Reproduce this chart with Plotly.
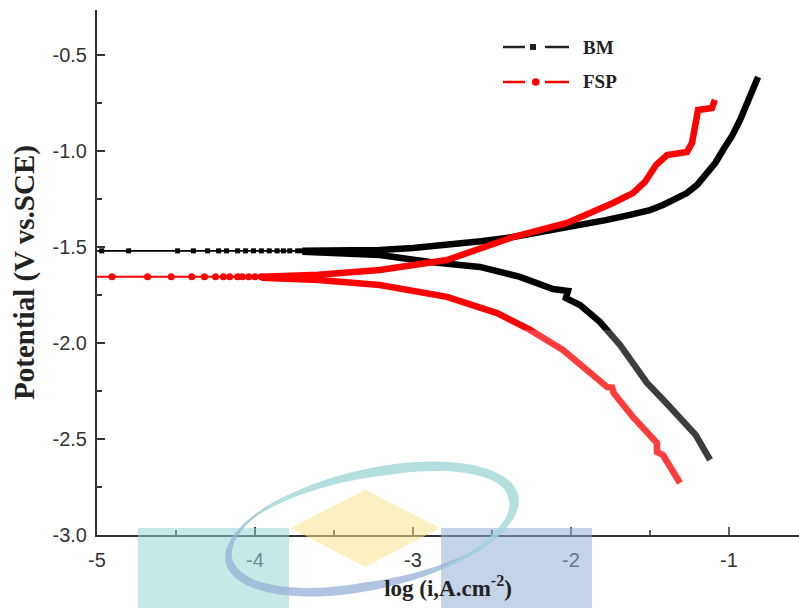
import numpy as np
import plotly.graph_objects as go

# ---------------- data ----------------
# BM: points near the corrosion potential (sparse markers)
bm_flat_x = [-5.05, -4.97, -4.80, -4.49, -4.39, -4.30, -4.23, -4.18, -4.11, -4.06, -4.01,
             -3.96, -3.91, -3.86, -3.82, -3.78, -3.73, -3.70]
bm_flat_y = [-1.52] * len(bm_flat_x)
# BM anodic branch
bm_an_x = [-3.70, -3.45, -3.21, -3.00, -2.785, -2.57, -2.367, -2.15, -1.943, -1.78, -1.627,
           -1.50, -1.418, -1.34, -1.266, -1.20, -1.139, -1.085, -1.038, -0.98, -0.930,
           -0.867, -0.816]
bm_an_y = [-1.52, -1.518, -1.515, -1.505, -1.490, -1.470, -1.448, -1.418, -1.385, -1.360, -1.333,
           -1.308, -1.281, -1.252, -1.219, -1.175, -1.115, -1.060, -0.995, -0.920, -0.839,
           -0.719, -0.615]
# BM cathodic branch
bm_ca_x = [-3.70, -3.45, -3.21, -2.892, -2.576, -2.323, -2.20, -2.114, -2.019, -2.032,
           -1.943, -1.816, -1.690, -1.519, -1.40, -1.310, -1.21, -1.120]
bm_ca_y = [-1.525, -1.53, -1.542, -1.578, -1.604, -1.656, -1.690, -1.719, -1.729, -1.766,
           -1.802, -1.891, -2.010, -2.208, -2.310, -2.385, -2.480, -2.609]

# FSP: points near the corrosion potential (sparse markers)
fsp_flat_x = [-5.05, -4.905, -4.68, -4.53, -4.40, -4.32, -4.25, -4.20, -4.16, -4.11, -4.08,
              -4.04, -4.00, -3.96]
fsp_flat_y = [-1.655] * len(fsp_flat_x)
# FSP anodic branch
fsp_an_x = [-3.96, -3.60, -3.21, -2.785, -2.367, -2.025, -1.734, -1.608, -1.532, -1.462,
            -1.392, -1.266, -1.234, -1.215, -1.196, -1.108, -1.089]
fsp_an_y = [-1.655, -1.645, -1.620, -1.568, -1.448, -1.375, -1.271, -1.219, -1.161, -1.073,
            -1.021, -1.005, -0.958, -0.854, -0.786, -0.776, -0.734]
# FSP cathodic branch
fsp_ca_x = [-3.96, -3.60, -3.21, -2.785, -2.468, -2.259, -2.051, -1.835, -1.770, -1.740,
            -1.730, -1.608, -1.456, -1.456, -1.418, -1.310]
fsp_ca_y = [-1.660, -1.672, -1.698, -1.760, -1.844, -1.932, -2.036, -2.177, -2.230, -2.232,
            -2.260, -2.385, -2.521, -2.568, -2.583, -2.729]

x_ticks = [-5, -4, -3, -2, -1]
y_ticks = [-3.0, -2.5, -2.0, -1.5, -1.0, -0.5]
series_names = ["BM", "FSP"]

BM_COLOR = "#000000"
FSP_COLOR = "#ff0000"

fig = go.Figure()

# thick branches (dense data points merge into a thick line)
for xs, ys, col in [(bm_an_x, bm_an_y, BM_COLOR), (bm_ca_x, bm_ca_y, BM_COLOR),
                    (fsp_an_x, fsp_an_y, FSP_COLOR), (fsp_ca_x, fsp_ca_y, FSP_COLOR)]:
    fig.add_trace(go.Scatter(x=xs, y=ys, mode="lines", showlegend=False,
                             line=dict(color=col, width=6.5), hoverinfo="skip"))

# sparse points near E_corr
fig.add_trace(go.Scatter(x=bm_flat_x, y=bm_flat_y, mode="lines+markers", name=series_names[0],
                         showlegend=False,
                         line=dict(color=BM_COLOR, width=1.8),
                         marker=dict(symbol="square", size=5, color=BM_COLOR)))
fig.add_trace(go.Scatter(x=fsp_flat_x, y=fsp_flat_y, mode="lines+markers", name=series_names[1],
                         showlegend=False,
                         line=dict(color=FSP_COLOR, width=1.8),
                         marker=dict(symbol="circle", size=7, color=FSP_COLOR)))

# ---------------- pixel helpers ----------------
L, T, W, H = 97, 10, 702, 525
def px(X):
    return (X - L) / W
def py(Y):
    return (T + H - Y) / H

shapes = []
annotations = []

# faint whitening of the lower part of the picture (as in the scanned original)
shapes.append(dict(type="rect", xref="x", yref="paper", layer="above",
                   x0=-2.6, x1=-0.9, y0=0, y1=py(330),
                   fillcolor="rgba(255,255,255,0.24)", line=dict(width=0)))

# ---------------- legend (line - marker - line) ----------------
for name, col, Y, sym in [(series_names[0], "#222222", 47, "square"),
                          (series_names[1], FSP_COLOR, 82, "circle")]:
    for a0, a1 in [(503, 525), (545, 569)]:
        shapes.append(dict(type="line", xref="paper", yref="paper",
                           x0=px(a0), x1=px(a1), y0=py(Y), y1=py(Y),
                           line=dict(color=col, width=2.5)))
    if sym == "square":
        shapes.append(dict(type="rect", xref="paper", yref="paper",
                           x0=px(530), x1=px(536), y0=py(Y + 3), y1=py(Y - 3),
                           fillcolor=col, line=dict(width=0)))
    else:
        shapes.append(dict(type="circle", xref="paper", yref="paper",
                           x0=px(532), x1=px(539.5), y0=py(Y + 3.75), y1=py(Y - 3.75),
                           fillcolor=col, line=dict(width=0)))
    annotations.append(dict(xref="paper", yref="paper", x=px(581), y=py(Y),
                            xanchor="left", yanchor="middle", showarrow=False, text=name,
                            font=dict(family="Liberation Serif, Times New Roman", size=19,
                                      color="#222222", weight="bold")))

# ---------------- watermark decoration (below plot) ----------------
shapes.append(dict(type="rect", xref="paper", yref="paper", layer="above",
                   x0=px(138), x1=px(289), y0=py(608), y1=py(528),
                   fillcolor="rgba(150,215,210,0.55)", line=dict(width=0)))
shapes.append(dict(type="rect", xref="paper", yref="paper", layer="above",
                   x0=px(441), x1=px(592), y0=py(608), y1=py(528),
                   fillcolor="rgba(150,175,215,0.55)", line=dict(width=0)))
shapes.append(dict(type="path", xref="paper", yref="paper", layer="above",
                   path=f"M {px(365)} {py(490)} L {px(440)} {py(528)} L {px(365)} {py(567)} L {px(291)} {py(528)} Z",
                   fillcolor="rgba(250,225,140,0.55)", line=dict(width=0)))

# swoosh: two tapered crescents of a tilted ellipse
cx, cy, ea, eb, ang = 372, 529, 150, 60, np.deg2rad(-13)
def ell(t, a, b):
    X = cx + a * np.cos(t) * np.cos(ang) - b * np.sin(t) * np.sin(ang)
    Y = cy + a * np.cos(t) * np.sin(ang) + b * np.sin(t) * np.cos(ang)
    return X, Y
def crescent(t0, t1, wmax, shrink):
    t = np.linspace(t0, t1, 90)
    s = (t - t0) / (t1 - t0)
    w = wmax * np.clip(np.minimum(s, 1 - s) * 3.0, 0.05, 1.0)
    a0, b0 = ea - shrink, eb - shrink
    ox, oy = ell(t, a0, b0)
    ix, iy = ell(t, a0 - w, b0 - w)
    xs = np.concatenate([ox, ix[::-1]])
    ys = np.concatenate([oy, iy[::-1]])
    return "M " + " L ".join(f"{px(X):.4f} {py(Y):.4f}" for X, Y in zip(xs, ys)) + " Z"
shapes.append(dict(type="path", xref="paper", yref="paper", layer="above",
                   path=crescent(0.15 * np.pi, 1.32 * np.pi, 9, 0),
                   fillcolor="rgba(150,175,215,0.75)", line=dict(width=0)))
shapes.append(dict(type="path", xref="paper", yref="paper", layer="above",
                   path=crescent(1.12 * np.pi, 2.45 * np.pi, 10, 0),
                   fillcolor="rgba(160,215,215,0.8)", line=dict(width=0)))

axis_common = dict(
    showline=True, linecolor="#333333", linewidth=2, mirror=False,
    ticks="inside", ticklen=8, tickwidth=1.5, tickcolor="#333333",
    showgrid=False, zeroline=False,
    tickfont=dict(family="Liberation Sans, Arial", size=20, color="#333333"),
)

fig.update_layout(
    width=799, height=608,
    margin=dict(l=L, r=799 - L - W, t=T, b=608 - T - H),
    paper_bgcolor="white", plot_bgcolor="white",
    showlegend=False,
    shapes=shapes, annotations=annotations,
    xaxis=dict(range=[-5, -5 + W / 158], tickvals=x_ticks,
               ticktext=[str(v) for v in x_ticks], ticklabelstandoff=6,
               minor=dict(ticks="inside", ticklen=5, dtick=0.5, tickcolor="#333333", tickwidth=1.5),
               title=dict(text="log (i,A.cm<sup>-2</sup>)", standoff=10,
                          font=dict(family="Liberation Serif, Times New Roman", size=23, color="#222222",
                                    weight="bold")),
               **axis_common),
    yaxis=dict(range=[-3.0, -3.0 + H / 192], tickvals=y_ticks,
               ticktext=[f"{v:.1f}" for v in y_ticks], ticklabelstandoff=4,
               minor=dict(ticks="inside", ticklen=5, dtick=0.25, tickcolor="#333333", tickwidth=1.5),
               title=dict(text="Potential (V vs.SCE)", standoff=9,
                          font=dict(family="Liberation Serif, Times New Roman", size=29, color="#222222",
                                    weight="bold")),
               **axis_common),
)

fig.write_html("out.html", config={"displayModeBar": False},
               post_script="document.body.style.margin='0px';")
